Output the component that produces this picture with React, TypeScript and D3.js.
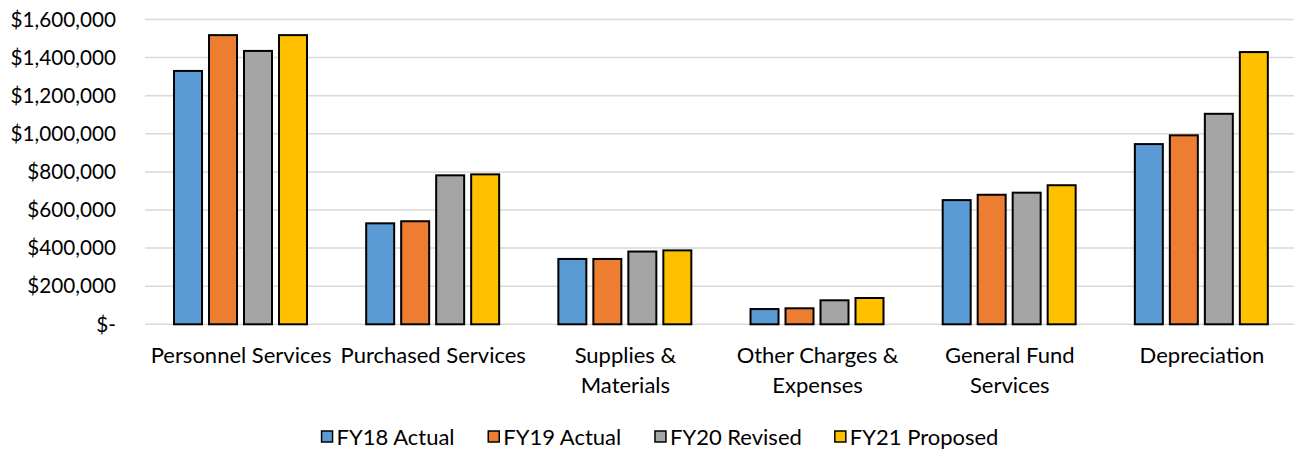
import React from "react";
import * as d3 from "d3";

const categories = [
  "Personnel Services",
  "Purchased Services",
  "Supplies & Materials",
  "Other Charges & Expenses",
  "General Fund Services",
  "Depreciation",
];
const categoryLines = [
  ["Personnel Services"],
  ["Purchased Services"],
  ["Supplies &", "Materials"],
  ["Other Charges &", "Expenses"],
  ["General Fund", "Services"],
  ["Depreciation"],
];
const seriesNames = ["FY18 Actual", "FY19 Actual", "FY20 Revised", "FY21 Proposed"];
const seriesColors = ["#5B9BD5", "#ED7D31", "#A5A5A5", "#FFC000"];
const fy18 = [1330000, 530000, 343000, 80000, 652000, 946000];
const fy19 = [1518000, 541000, 343000, 84000, 680000, 992000];
const fy20 = [1435000, 782000, 382000, 126000, 691000, 1105000];
const fy21 = [1518000, 787000, 388000, 138000, 730000, 1429000];
const seriesValues = [fy18, fy19, fy20, fy21];
const yTicks = [0, 200000, 400000, 600000, 800000, 1000000, 1200000, 1400000, 1600000];

const W = 1294;
const H = 449;
const FONT = "Lato, 'Open Sans', sans-serif";
const TICK_FS = 20.7;
const LABEL_FS = 22;

function measure(text: string, size: number) {
  const c = document.createElement("canvas").getContext("2d");
  if (!c) return text.length * size * 0.5;
  c.font = `${size}px Lato`;
  return c.measureText(text).width;
}

export default function App() {
  const x = d3.scaleBand<string>().domain(categories).range([145, 1298]).paddingInner(0).paddingOuter(0);
  const step = x.step();
  const inner = d3
    .scaleBand<number>()
    .domain(seriesNames.map((_, i) => i))
    .range([step * 0.151, step * 0.843])
    .paddingInner(0.2)
    .paddingOuter(0);
  const y = d3.scaleLinear().domain([0, 1600000]).range([324.3, 19.5]);
  const fmt = d3.format(",");
  const tickLabel = (v: number) => (v === 0 ? "$-" : "$" + fmt(v));

  // legend layout
  const sq = 11;
  const textGap = 4;
  const entryGap = 33;
  const widths = seriesNames.map((n) => sq + textGap + measure(n, LABEL_FS));
  const total = d3.sum(widths) + entryGap * (seriesNames.length - 1);
  let lx = 660 - total / 2;
  const legendX = widths.map((w) => {
    const p = lx;
    lx += w + entryGap;
    return p;
  });

  return (
    <svg
      width={W}
      height={H}
      style={{ position: "absolute", left: 0, top: 0, display: "block", background: "#fff" }}
      fontFamily={FONT}
    >
      {yTicks.map((t) => (
        <g key={t}>
          <line x1={145} x2={W} y1={y(t)} y2={y(t)} stroke="#D9D9D9" strokeWidth={1.5} />
          <text x={116} y={y(t)} dy="0.35em" textAnchor="end" fontSize={TICK_FS} fill="#000">
            {tickLabel(t)}
          </text>
        </g>
      ))}
      {categories.map((c, ci) => (
        <g key={c} transform={`translate(${x(c)},0)`}>
          {seriesValues.map((vals, si) => (
            <rect
              key={si}
              x={inner(si)}
              width={inner.bandwidth()}
              y={y(vals[ci])}
              height={y(0) - y(vals[ci])}
              fill={seriesColors[si]}
              stroke="#000"
              strokeWidth={2}
            />
          ))}
          {categoryLines[ci].map((ln, li) => (
            <text
              key={li}
              x={step / 2}
              y={363 + li * 30}
              textAnchor="middle"
              fontSize={LABEL_FS}
              fill="#000"
            >
              {ln}
            </text>
          ))}
        </g>
      ))}
      {seriesNames.map((n, i) => (
        <g key={n} transform={`translate(${legendX[i]},0)`}>
          <rect x={0} y={431} width={sq} height={sq} fill={seriesColors[i]} stroke="#000" strokeWidth={1.5} />
          <text x={sq + textGap} y={445} fontSize={LABEL_FS} fill="#000">
            {n}
          </text>
        </g>
      ))}
    </svg>
  );
}
